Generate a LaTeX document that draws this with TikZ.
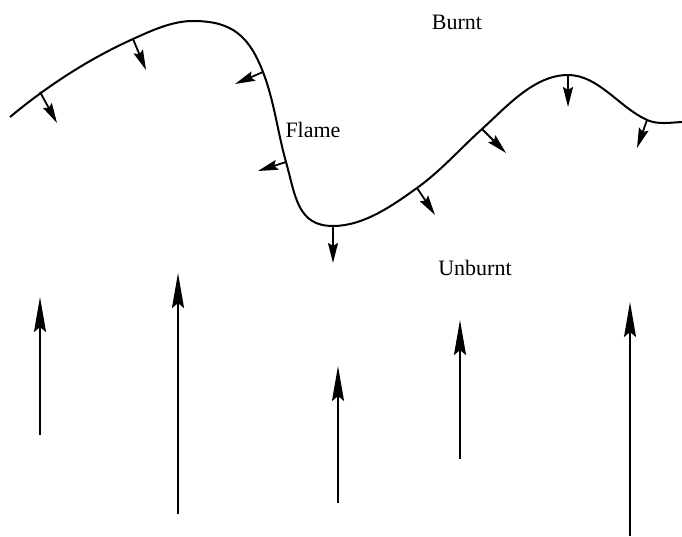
\documentclass[tikz,border=0pt]{standalone}
\usepackage{fontspec}
\setmainfont{Liberation Serif}
\usetikzlibrary{arrows.meta}
\begin{document}
\begin{tikzpicture}[x=1pt,y=-1pt,
  flamecurve/.style={line width=2pt,line join=round},
  smallarrow/.style={line width=1.8pt,-{Stealth[length=20pt,width=10pt,inset=3pt]}},
  bigarrow/.style={line width=2.2pt,-{Stealth[length=35pt,width=12pt,inset=5pt]}},
  lbl/.style={anchor=base,inner sep=0pt,font=\fontsize{22}{26}\selectfont}]
\useasboundingbox (0,0) rectangle (682,537);
% flame front
\draw[flamecurve] (10,117)
  .. controls (47.3,86) and (88.8,58.9) .. (133,39)
  .. controls (152,30.4) and (172.1,21) .. (193,21)
  .. controls (232,21) and (249,35.8) .. (263,72)
  .. controls (274.2,100.8) and (277.6,132.2) .. (286,162)
  .. controls (295.6,196.3) and (297.3,226) .. (333,226)
  .. controls (363.7,226) and (392.1,205.8) .. (417,188)
  .. controls (440.7,171) and (460.3,148.6) .. (482,129)
  .. controls (507,106.4) and (534.2,75) .. (568,75)
  .. controls (598.3,75) and (619.4,107.5) .. (647,120)
  .. controls (657.6,124.8) and (670.3,122.6) .. (682,122);
% normal arrows on the flame
\coordinate (b1) at (40,92);   \coordinate (t1) at (57,123);
\coordinate (b2) at (133,39);  \coordinate (t2) at (146,70);
\coordinate (b3) at (263,72);  \coordinate (t3) at (235,84);
\coordinate (b4) at (286,162); \coordinate (t4) at (258,171);
\coordinate (b5) at (333,226); \coordinate (t5) at (333,263);
\coordinate (b6) at (417,188); \coordinate (t6) at (435,215);
\coordinate (b7) at (482,129); \coordinate (t7) at (506,153);
\coordinate (b8) at (568,75);  \coordinate (t8) at (568,107);
\coordinate (b9) at (647,120); \coordinate (t9) at (637,148);
\foreach \i in {1,...,9} \draw[smallarrow] (b\i) -- (t\i);
% incoming flow arrows
\coordinate (f1) at (40,435);  \coordinate (g1) at (40,297);
\coordinate (f2) at (178,514); \coordinate (g2) at (178,273);
\coordinate (f3) at (338,503); \coordinate (g3) at (338,366);
\coordinate (f4) at (460,459); \coordinate (g4) at (460,320);
\coordinate (f5) at (630,536); \coordinate (g5) at (630,302);
\foreach \i in {1,...,5} \draw[bigarrow] (f\i) -- (g\i);
% labels
\node[lbl] (burnt) at (457,30) {Burnt};
\node[lbl] (flame) at (313,138) {Flame};
\node[lbl] (unburnt) at (475,275) {Unburnt};
\end{tikzpicture}
\end{document}
